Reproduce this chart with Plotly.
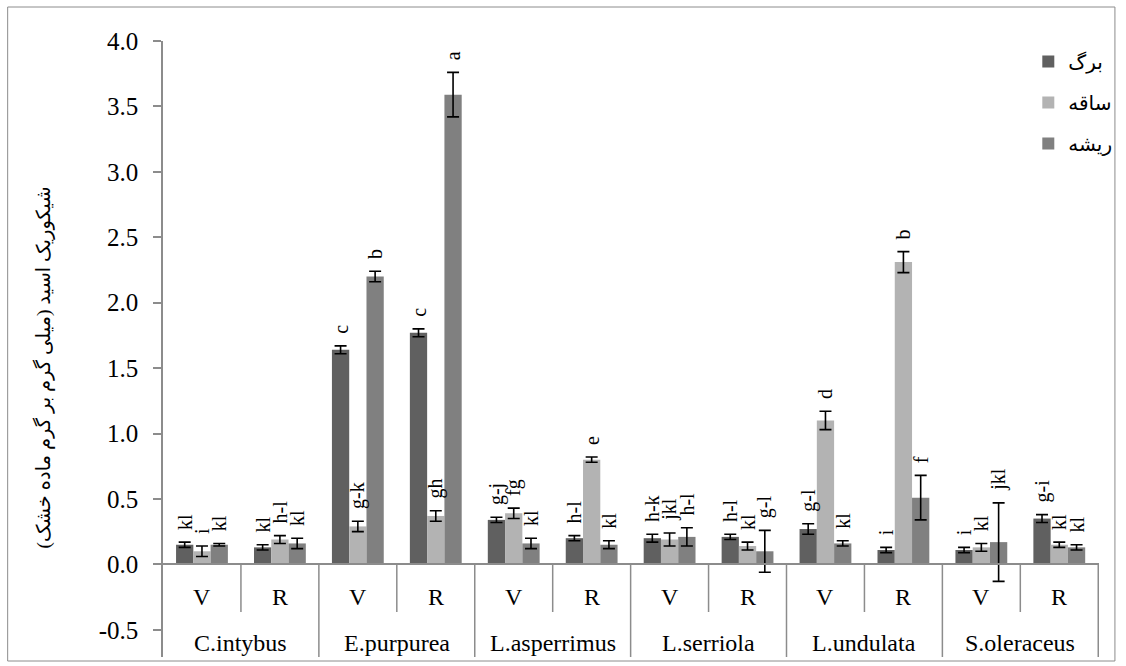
import plotly.graph_objects as go

species = ["C.intybus", "E.purpurea", "L.asperrimus", "L.serriola", "L.undulata", "S.oleraceus"]
stages = ["V", "R"]
series_names = ["برگ", "ساقه", "ریشه"]

leaf = [0.15, 0.13, 1.64, 1.77, 0.34, 0.20, 0.20, 0.21, 0.27, 0.11, 0.11, 0.35]
stem = [0.10, 0.19, 0.29, 0.37, 0.39, 0.80, 0.19, 0.14, 1.10, 2.31, 0.13, 0.15]
root = [0.15, 0.16, 2.20, 3.59, 0.16, 0.15, 0.21, 0.10, 0.16, 0.51, 0.17, 0.13]

leaf_err = [0.02, 0.02, 0.03, 0.03, 0.02, 0.02, 0.03, 0.02, 0.04, 0.02, 0.02, 0.03]
stem_err = [0.04, 0.03, 0.04, 0.04, 0.04, 0.02, 0.05, 0.03, 0.07, 0.08, 0.03, 0.02]
root_err = [0.01, 0.04, 0.04, 0.17, 0.04, 0.03, 0.07, 0.16, 0.02, 0.17, 0.30, 0.02]

leaf_lbl = ["kl", "kl", "c", "c", "g-j", "h-l", "h-k", "h-l", "g-l", "i", "i", "g-i"]
stem_lbl = ["i", "h-l", "g-k", "gh", "fg", "e", "jkl", "kl", "d", "b", "kl", "kl"]
root_lbl = ["kl", "kl", "b", "a", "kl", "kl", "h-l", "g-l", "kl", "f", "jkl", "kl"]

y_title = "شیکوریک اسید (میلی گرم بر گرم ماده خشک)"
y_ticks = [-0.5, 0.0, 0.5, 1.0, 1.5, 2.0, 2.5, 3.0, 3.5, 4.0]
y_ticktext = ["-0.5", "0.0", "0.5", "1.0", "1.5", "2.0", "2.5", "3.0", "3.5", "4.0"]

colors = ["#606060", "#b3b3b3", "#808080"]

outer = [s for s in species for _ in stages]
inner = [st for _ in species for st in stages]
xcat = [outer, inner]

SERIF = "Liberation Serif"
ARFONT = "Liberation Serif, DejaVu Sans"
GRID = "#8c8c8c"

YMIN, YMAX = -0.708, 4.0
xpos = -YMIN / (YMAX - YMIN)

fig = go.Figure()
vals = [leaf, stem, root]
errs = [leaf_err, stem_err, root_err]
lbls = [leaf_lbl, stem_lbl, root_lbl]
for k in range(3):
    fig.add_trace(go.Bar(
        x=xcat, y=vals[k], name=series_names[k], marker_color=colors[k],
        marker_line_width=0, offsetgroup=str(k), legendgroup=str(k),
        error_y=dict(type="data", array=errs[k], visible=True, color="black",
                     thickness=1.6, width=6),
    ))
label_font = dict(family=SERIF, size=20, color="black")
for k in range(3):
    tops = [v + e for v, e in zip(vals[k], errs[k])]
    fig.add_trace(go.Bar(
        x=xcat, y=[0.07] * len(tops), base=tops, offsetgroup=str(k),
        marker_color="rgba(0,0,0,0)", marker_line_width=0, showlegend=False,
        text=lbls[k], textposition="outside", textangle=-90, constraintext="none",
        cliponaxis=False, textfont=label_font, outsidetextfont=label_font,
        hoverinfo="skip",
    ))

n = len(outer)
shapes = []
low_inner = (657 - 612) / 616
for i in range(len(species)):
    shapes.append(dict(type="line", xref="x", yref="paper", x0=2 * i + 0.5, x1=2 * i + 0.5,
                       y0=xpos, y1=low_inner, line=dict(color=GRID, width=1.5)))
    shapes.append(dict(type="line", xref="x", yref="paper", x0=2 * i + 1.5, x1=2 * i + 1.5,
                       y0=xpos, y1=0, line=dict(color=GRID, width=1.5)))
shapes.append(dict(type="rect", xref="paper", yref="paper",
                   x0=(7 - 163) / 940, x1=(1119 - 163) / 940,
                   y0=(657 - 661) / 616, y1=(657 - 7) / 616,
                   line=dict(color=GRID, width=1), fillcolor="rgba(0,0,0,0)"))

annotations = []
for j in range(n):
    annotations.append(dict(xref="x", yref="paper", x=j, y=(657 - 597) / 616,
                            text=inner[j], showarrow=False, yanchor="middle",
                            font=dict(family=SERIF, size=24, color="black")))
for i, s in enumerate(species):
    annotations.append(dict(xref="x", yref="paper", x=2 * i + 0.5, y=(657 - 643) / 616,
                            text=s, showarrow=False, yanchor="middle",
                            font=dict(family=SERIF, size=24, color="black")))
annotations.append(dict(xref="paper", yref="paper", x=(42 - 163) / 940, y=(657 - 368) / 616,
                        text=y_title, textangle=-90, showarrow=False,
                        xanchor="center", yanchor="middle",
                        font=dict(family=ARFONT, size=19.5, color="black")))

fig.update_layout(
    width=1126, height=666,
    margin=dict(l=163, r=23, t=41, b=9),
    paper_bgcolor="white", plot_bgcolor="white",
    barmode="group", bargap=0.335, bargroupgap=0,
    font=dict(family=SERIF, color="black"),
    showlegend=True,
    legend=dict(x=(1032 - 163) / 940, y=(657 - 42) / 616, xanchor="left", yanchor="top",
                font=dict(family=ARFONT, size=20, color="black"),
                bgcolor="rgba(0,0,0,0)", tracegroupgap=12, traceorder="grouped"),
    shapes=shapes,
    annotations=annotations,
    xaxis=dict(type="multicategory", anchor="free", position=xpos,
               showline=True, linecolor=GRID, linewidth=1.5,
               ticks="", showgrid=False, showticklabels=False, showdividers=False),
    yaxis=dict(range=[YMIN, YMAX], tickvals=y_ticks, ticktext=y_ticktext,
               showline=True, linecolor=GRID, linewidth=1.5,
               ticks="outside", ticklen=8, tickcolor=GRID, tickwidth=1.5,
               showgrid=False, zeroline=False, ticklabelstandoff=10,
               tickfont=dict(family=SERIF, size=25, color="black")),
)

fig.write_html("out.html")
